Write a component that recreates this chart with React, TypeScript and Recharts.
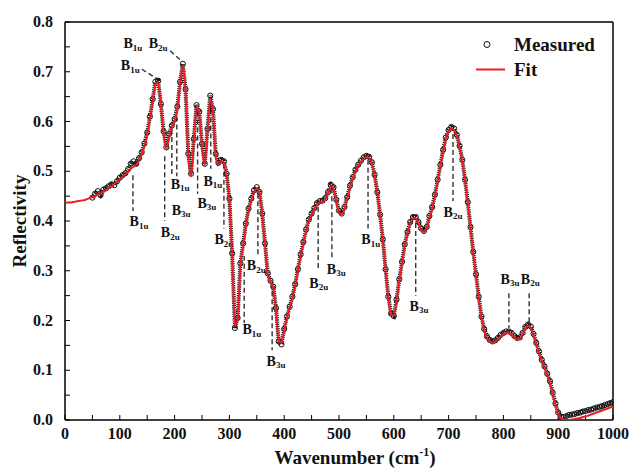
import React from 'react';
import { ComposedChart, Line, Scatter, XAxis, YAxis, ReferenceLine, ReferenceDot, Legend } from 'recharts';

const FONT = 'Liberation Serif, Times New Roman, serif';

// fit curve, every 5 cm-1 from 0 to 1000
const fitValues = [
  0.436, 0.437, 0.437, 0.438, 0.439, 0.440, 0.441, 0.442, 0.444, 0.446,
  0.448, 0.450, 0.453, 0.456, 0.459, 0.462, 0.466, 0.470, 0.474, 0.479,
  0.484, 0.489, 0.494, 0.499, 0.505, 0.509, 0.512, 0.522, 0.535, 0.552,
  0.574, 0.605, 0.640, 0.675, 0.678, 0.630, 0.575, 0.545, 0.570, 0.588,
  0.600, 0.625, 0.675, 0.712, 0.660, 0.530, 0.490, 0.560, 0.628, 0.615,
  0.550, 0.512, 0.580, 0.645, 0.620, 0.530, 0.513, 0.520, 0.516, 0.490,
  0.440, 0.330, 0.190, 0.200, 0.310, 0.350, 0.390, 0.420, 0.440, 0.458,
  0.465, 0.455, 0.410, 0.350, 0.290, 0.277, 0.265, 0.220, 0.160, 0.155,
  0.180, 0.205, 0.225, 0.245, 0.270, 0.300, 0.330, 0.355, 0.380, 0.400,
  0.412, 0.423, 0.433, 0.437, 0.438, 0.443, 0.455, 0.470, 0.465, 0.440,
  0.418, 0.413, 0.425, 0.445, 0.468, 0.485, 0.500, 0.510, 0.518, 0.525,
  0.528, 0.526, 0.515, 0.490, 0.455, 0.410, 0.360, 0.300, 0.245, 0.212,
  0.210, 0.240, 0.280, 0.315, 0.350, 0.375, 0.395, 0.405, 0.405, 0.395,
  0.382, 0.378, 0.385, 0.405, 0.425, 0.450, 0.480, 0.510, 0.540, 0.565,
  0.580, 0.586, 0.583, 0.570, 0.548, 0.520, 0.480, 0.435, 0.385, 0.335,
  0.290, 0.245, 0.205, 0.180, 0.165, 0.158, 0.155, 0.157, 0.162, 0.168,
  0.172, 0.175, 0.175, 0.172, 0.166, 0.162, 0.163, 0.172, 0.184, 0.189,
  0.185, 0.170, 0.152, 0.135, 0.118, 0.105, 0.090, 0.075, 0.052, 0.030,
  0.012, 0.004, 0.001, 0.000, 0.000, 0.001, 0.002, 0.003, 0.004, 0.006,
  0.007, 0.009, 0.011, 0.013, 0.015, 0.017, 0.019, 0.021, 0.023, 0.025,
  0.027,
];

// measured points, every 5 cm-1 from 50 to 1000
const measuredValues = [
  0.447, 0.455, 0.460, 0.452, 0.463, 0.466, 0.470, 0.474, 0.472, 0.480,
  0.487, 0.492, 0.496, 0.504, 0.515, 0.520, 0.515, 0.526, 0.538, 0.556,
  0.578, 0.610, 0.645, 0.680, 0.682, 0.635, 0.580, 0.548, 0.575, 0.592,
  0.605, 0.630, 0.680, 0.716, 0.665, 0.535, 0.495, 0.565, 0.633, 0.620,
  0.555, 0.515, 0.585, 0.652, 0.625, 0.535, 0.517, 0.523, 0.520, 0.495,
  0.445, 0.335, 0.185, 0.205, 0.315, 0.355, 0.395, 0.425, 0.445, 0.462,
  0.468, 0.458, 0.415, 0.355, 0.295, 0.280, 0.268, 0.225, 0.158, 0.152,
  0.183, 0.208, 0.228, 0.248, 0.273, 0.303, 0.333, 0.358, 0.383, 0.403,
  0.415, 0.426, 0.436, 0.440, 0.441, 0.446, 0.458, 0.473, 0.468, 0.443,
  0.421, 0.415, 0.428, 0.448, 0.471, 0.488, 0.503, 0.513, 0.521, 0.528,
  0.531, 0.529, 0.518, 0.493, 0.458, 0.413, 0.363, 0.303, 0.248, 0.214,
  0.209, 0.242, 0.283, 0.318, 0.353, 0.378, 0.398, 0.408, 0.408, 0.398,
  0.385, 0.380, 0.388, 0.410, 0.428, 0.453, 0.483, 0.513, 0.543, 0.568,
  0.583, 0.589, 0.586, 0.573, 0.551, 0.523, 0.483, 0.438, 0.388, 0.338,
  0.293, 0.248, 0.208, 0.183, 0.168, 0.161, 0.158, 0.160, 0.165, 0.171,
  0.175, 0.178, 0.178, 0.175, 0.169, 0.165, 0.166, 0.175, 0.187, 0.192,
  0.188, 0.173, 0.155, 0.138, 0.121, 0.108, 0.093, 0.078, 0.055, 0.033,
  0.015, 0.007, 0.006, 0.008, 0.010, 0.011, 0.012, 0.014, 0.015, 0.017,
  0.018, 0.020, 0.021, 0.023, 0.025, 0.026, 0.028, 0.030, 0.032, 0.034,
  0.036,
];

const xTicks = [0, 50, 100, 150, 200, 250, 300, 350, 400, 450, 500, 550, 600, 650, 700, 750, 800, 850, 900, 950, 1000];
const yTicks = [0, 0.05, 0.1, 0.15, 0.2, 0.25, 0.3, 0.35, 0.4, 0.45, 0.5, 0.55, 0.6, 0.65, 0.7, 0.75, 0.8];

// dashed guide lines from peaks to mode labels
const modeLines = [
  { x1: 124, y1: 0.492, x2: 124, y2: 0.42 },
  { x1: 182, y1: 0.53, x2: 182, y2: 0.40 },
  { x1: 195, y1: 0.585, x2: 195, y2: 0.49 },
  { x1: 204, y1: 0.61, x2: 204, y2: 0.49 },
  { x1: 242, y1: 0.62, x2: 242, y2: 0.455 },
  { x1: 266, y1: 0.64, x2: 266, y2: 0.505 },
  { x1: 290, y1: 0.515, x2: 290, y2: 0.385 },
  { x1: 327, y1: 0.33, x2: 327, y2: 0.195 },
  { x1: 352, y1: 0.456, x2: 352, y2: 0.33 },
  { x1: 378, y1: 0.275, x2: 378, y2: 0.14 },
  { x1: 462, y1: 0.428, x2: 462, y2: 0.30 },
  { x1: 487, y1: 0.466, x2: 487, y2: 0.325 },
  { x1: 553, y1: 0.523, x2: 553, y2: 0.385 },
  { x1: 640, y1: 0.396, x2: 640, y2: 0.25 },
  { x1: 708, y1: 0.575, x2: 708, y2: 0.44 },
  { x1: 810, y1: 0.255, x2: 810, y2: 0.185 },
  { x1: 847, y1: 0.255, x2: 847, y2: 0.197 },
  { x1: 192, y1: 0.742, x2: 214, y2: 0.72 },
  { x1: 140, y1: 0.705, x2: 168, y2: 0.686 },
];

const modeLabels = [
  { mode: '1u', x: 135, y: 0.398 },
  { mode: '2u', x: 192, y: 0.376 },
  { mode: '1u', x: 210, y: 0.474 },
  { mode: '3u', x: 212, y: 0.422 },
  { mode: '3u', x: 259, y: 0.436 },
  { mode: '1u', x: 270, y: 0.48 },
  { mode: '2u', x: 290, y: 0.362 },
  { mode: '1u', x: 341, y: 0.181 },
  { mode: '2u', x: 349, y: 0.31 },
  { mode: '3u', x: 385, y: 0.118 },
  { mode: '2u', x: 463, y: 0.275 },
  { mode: '3u', x: 495, y: 0.303 },
  { mode: '1u', x: 558, y: 0.362 },
  { mode: '3u', x: 646, y: 0.229 },
  { mode: '2u', x: 708, y: 0.418 },
  { mode: '3u', x: 812, y: 0.283 },
  { mode: '2u', x: 849, y: 0.283 },
  { mode: '1u', x: 124, y: 0.756 },
  { mode: '2u', x: 170, y: 0.756 },
  { mode: '1u', x: 119, y: 0.712 },
];

const fitData = fitValues.map((v, i) => ({ x: i * 5, fit: v }));
const measuredData = measuredValues.map((v, i) => ({ x: 50 + i * 5, measured: v }));

const serifBold = { fontFamily: FONT, fontWeight: 'bold' as const };

const ModeLabel = ({ cx, cy, mode }: any) => (
  <text x={cx} y={cy} textAnchor="middle" dominantBaseline="central" style={{ ...serifBold, fontSize: 14 }} fill="#111">
    B<tspan style={{ fontSize: 9 }} dy={4}>{mode}</tspan>
  </text>
);

const XTitle = ({ viewBox }: any) => (
  <text x={viewBox.x + viewBox.width / 2 + 16} y={viewBox.y + 44} textAnchor="middle" style={{ ...serifBold, fontSize: 19 }} fill="#111">
    Wavenumber (cm<tspan style={{ fontSize: 12 }} dy={-8}>-1</tspan><tspan dy={8}>)</tspan>
  </text>
);

const YTitle = () => (
  <text x={19} y={221} transform="rotate(-90 19 221)" textAnchor="middle" dominantBaseline="central" style={{ ...serifBold, fontSize: 19 }} fill="#111">
    Reflectivity
  </text>
);

const XTick = ({ x, y, payload }: any) => (
  payload.value % 100 === 0 ? (
    <text x={x} y={y} dy={12} textAnchor="middle" style={{ ...serifBold, fontSize: 16 }} fill="#111">{payload.value}</text>
  ) : null
);

const YTick = ({ x, y, payload }: any) => (
  Math.round(payload.value * 100) % 10 === 0 ? (
    <text x={x} y={y} dy={5} textAnchor="end" style={{ ...serifBold, fontSize: 16 }} fill="#111">{payload.value.toFixed(1)}</text>
  ) : null
);

const LegendBox = () => (
  <div style={{ fontFamily: FONT, fontWeight: 'bold', fontSize: 19, color: '#111', lineHeight: '25px' }}>
    <div style={{ display: 'flex', alignItems: 'center', height: 25 }}>
      <svg width={46} height={25}><circle cx={19} cy={12.5} r={3} fill="none" stroke="#111" strokeWidth={1} /></svg>
      <span>Measured</span>
    </div>
    <div style={{ display: 'flex', alignItems: 'center', height: 25 }}>
      <svg width={46} height={25}><line x1={8} x2={37} y1={12.5} y2={12.5} stroke="#ee1c25" strokeWidth={2} /></svg>
      <span>Fit</span>
    </div>
  </div>
);

export default function App() {
  return (
    <div style={{ position: 'absolute', left: 0, top: 0, width: 633, height: 469, background: '#fff' }}>
      <ComposedChart width={633} height={469} margin={{ top: 22, right: 20, bottom: 0, left: 0 }}>
        <XAxis
          dataKey="x" type="number" domain={[0, 1000]} ticks={xTicks} interval={0} allowDataOverflow
          tickSize={-5} tickMargin={12} height={49} stroke="#000" axisLine={{ strokeWidth: 1.5 }}
          tick={<XTick />} label={{ content: XTitle }}
        />
        <YAxis
          type="number" domain={[0, 0.8]} ticks={yTicks} interval={0} allowDataOverflow
          tickSize={-5} tickMargin={17} width={65} stroke="#000" axisLine={{ strokeWidth: 1.5 }}
          tick={<YTick />} label={{ content: YTitle }}
        />
        <ReferenceLine y={0.8} stroke="#000" strokeWidth={1.5} />
        <ReferenceLine x={1000} stroke="#000" strokeWidth={1.5} />
        {modeLines.map((s, i) => (
          <ReferenceLine key={'l' + i} segment={[{ x: s.x1, y: s.y1 }, { x: s.x2, y: s.y2 }]} stroke="#333" strokeWidth={1.4} strokeDasharray="5 3" />
        ))}
        <Scatter data={measuredData} dataKey="measured" isAnimationActive={false}
          line={{ stroke: '#1a1a1a', strokeWidth: 4, strokeDasharray: '1.2 1' }}
          shape={(p: any) => <circle cx={p.cx} cy={p.cy} r={2.6} fill="none" stroke="#111" strokeWidth={1} />} />
        <Line data={fitData} dataKey="fit" type="monotone" stroke="#ee1c25" strokeWidth={2} dot={false} isAnimationActive={false} zIndex={700} />
        {modeLabels.map((m, i) => (
          <ReferenceDot key={'m' + i} x={m.x} y={m.y} r={0}
            shape={(p: any) => <ModeLabel cx={p.cx} cy={p.cy} mode={m.mode} />} />
        ))}
        <Legend layout="vertical" align="center" verticalAlign="middle" wrapperStyle={{ top: 32, left: 468, width: 150 }} content={() => <LegendBox />} />
      </ComposedChart>
    </div>
  );
}
